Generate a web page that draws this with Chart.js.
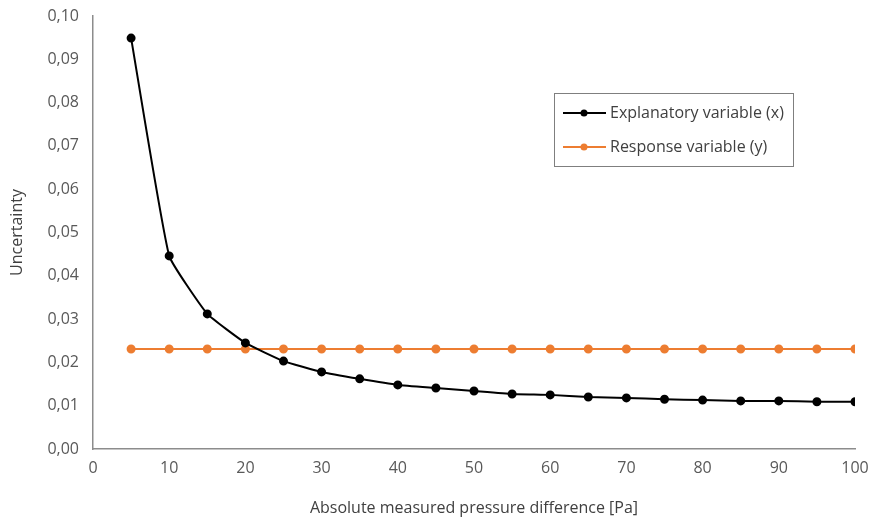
<!DOCTYPE html>
<html>
<head>
<meta charset="utf-8">
<script src="https://cdn.jsdelivr.net/npm/chart.js@4"></script>
<style>
  html, body { margin: 0; padding: 0; background: #fff; }
  #wrap { width: 871px; height: 522px; }
</style>
</head>
<body>
<div id="wrap"><canvas id="myChart" width="871" height="522"></canvas></div>
<script>
const pressures = [5,10,15,20,25,30,35,40,45,50,55,60,65,70,75,80,85,90,95,100];
const explanatory = [0.0949,0.0446,0.0312,0.0245,0.0203,0.0178,0.0162,0.0148,0.0141,0.0134,
                     0.0127,0.0125,0.0120,0.0118,0.0115,0.0113,0.0111,0.0111,0.0109,0.0109];
const response = [0.0231,0.0231,0.0231,0.0231,0.0231,0.0231,0.0231,0.0231,0.0231,0.0231,
                  0.0231,0.0231,0.0231,0.0231,0.0231,0.0231,0.0231,0.0231,0.0231,0.0231];
const seriesNames = ['Explanatory variable (x)', 'Response variable (y)'];
const seriesColors = ['#000000', '#ED7D31'];

const FONT = "'Open Sans', 'Liberation Sans', sans-serif";
const textColor = '#595959';

// legend box drawn inside the plot, like the Excel original
const boxLegend = {
  id: 'boxLegend',
  afterDraw(chart) {
    const ctx = chart.ctx;
    const x = 554, y = 93, w = 239, h = 73;
    ctx.save();
    ctx.fillStyle = '#fff';
    ctx.fillRect(x, y, w, h);
    ctx.strokeStyle = '#7f7f7f';
    ctx.lineWidth = 1;
    ctx.strokeRect(x + 0.5, y + 0.5, w, h);
    ctx.font = '16px ' + FONT;
    ctx.textBaseline = 'middle';
    chart.data.datasets.forEach((ds, i) => {
      const cy = y + 20 + i * 34;
      ctx.strokeStyle = ds.borderColor;
      ctx.lineWidth = 2;
      ctx.beginPath();
      ctx.moveTo(x + 9, cy);
      ctx.lineTo(x + 52, cy);
      ctx.stroke();
      ctx.fillStyle = ds.borderColor;
      ctx.beginPath();
      ctx.arc(x + 30, cy, 3.5, 0, Math.PI * 2);
      ctx.fill();
      ctx.fillStyle = '#404040';
      ctx.fillText(ds.label, x + 56, cy);
    });
    ctx.restore();
  }
};

new Chart("myChart", {
  type: "line",
  data: {
    labels: pressures,
    datasets: [{
      label: seriesNames[0],
      data: pressures.map((p, i) => ({x: p, y: explanatory[i]})),
      borderColor: seriesColors[0],
      backgroundColor: seriesColors[0],
      borderWidth: 2,
      pointRadius: 3.5,
      tension: 0.12,
      fill: false
    }, {
      label: seriesNames[1],
      data: pressures.map((p, i) => ({x: p, y: response[i]})),
      borderColor: seriesColors[1],
      backgroundColor: seriesColors[1],
      borderWidth: 2,
      pointRadius: 3.5,
      fill: false
    }]
  },
  options: {
    responsive: false,
    animation: false,
    layout: { padding: { top: 16, right: 16, left: 0, bottom: 0 } },
    plugins: {
      legend: { display: false },
      tooltip: { enabled: false }
    },
    scales: {
      x: {
        type: 'linear',
        min: 0, max: 100,
        afterFit(scale) { scale.height = 73; scale.paddingLeft = 0; scale.paddingRight = 0; },
        grid: { display: false, drawTicks: false },
        border: { display: true, color: '#8c8c8c', width: 1.5 },
        ticks: { stepSize: 10, padding: 10, color: textColor, font: { family: FONT, size: 16 } },
        title: {
          display: true,
          text: 'Absolute measured pressure difference [Pa]',
          color: '#404040',
          font: { family: FONT, size: 16 },
          padding: { top: 4, bottom: 4 }
        }
      },
      y: {
        min: 0, max: 0.1,
        afterFit(scale) { scale.width = 93; scale.paddingTop = 0; scale.paddingBottom = 0; },
        grid: { display: false, drawTicks: false },
        border: { display: true, color: '#8c8c8c', width: 1.5 },
        ticks: {
          stepSize: 0.01, padding: 14, color: textColor,
          font: { family: FONT, size: 16 },
          callback: v => v.toFixed(2).replace('.', ',')
        },
        title: {
          display: true,
          text: 'Uncertainty',
          color: '#404040',
          font: { family: FONT, size: 16 },
          padding: { top: 8, bottom: 4 }
        }
      }
    }
  },
  plugins: [boxLegend]
});
</script>
</body>
</html>
